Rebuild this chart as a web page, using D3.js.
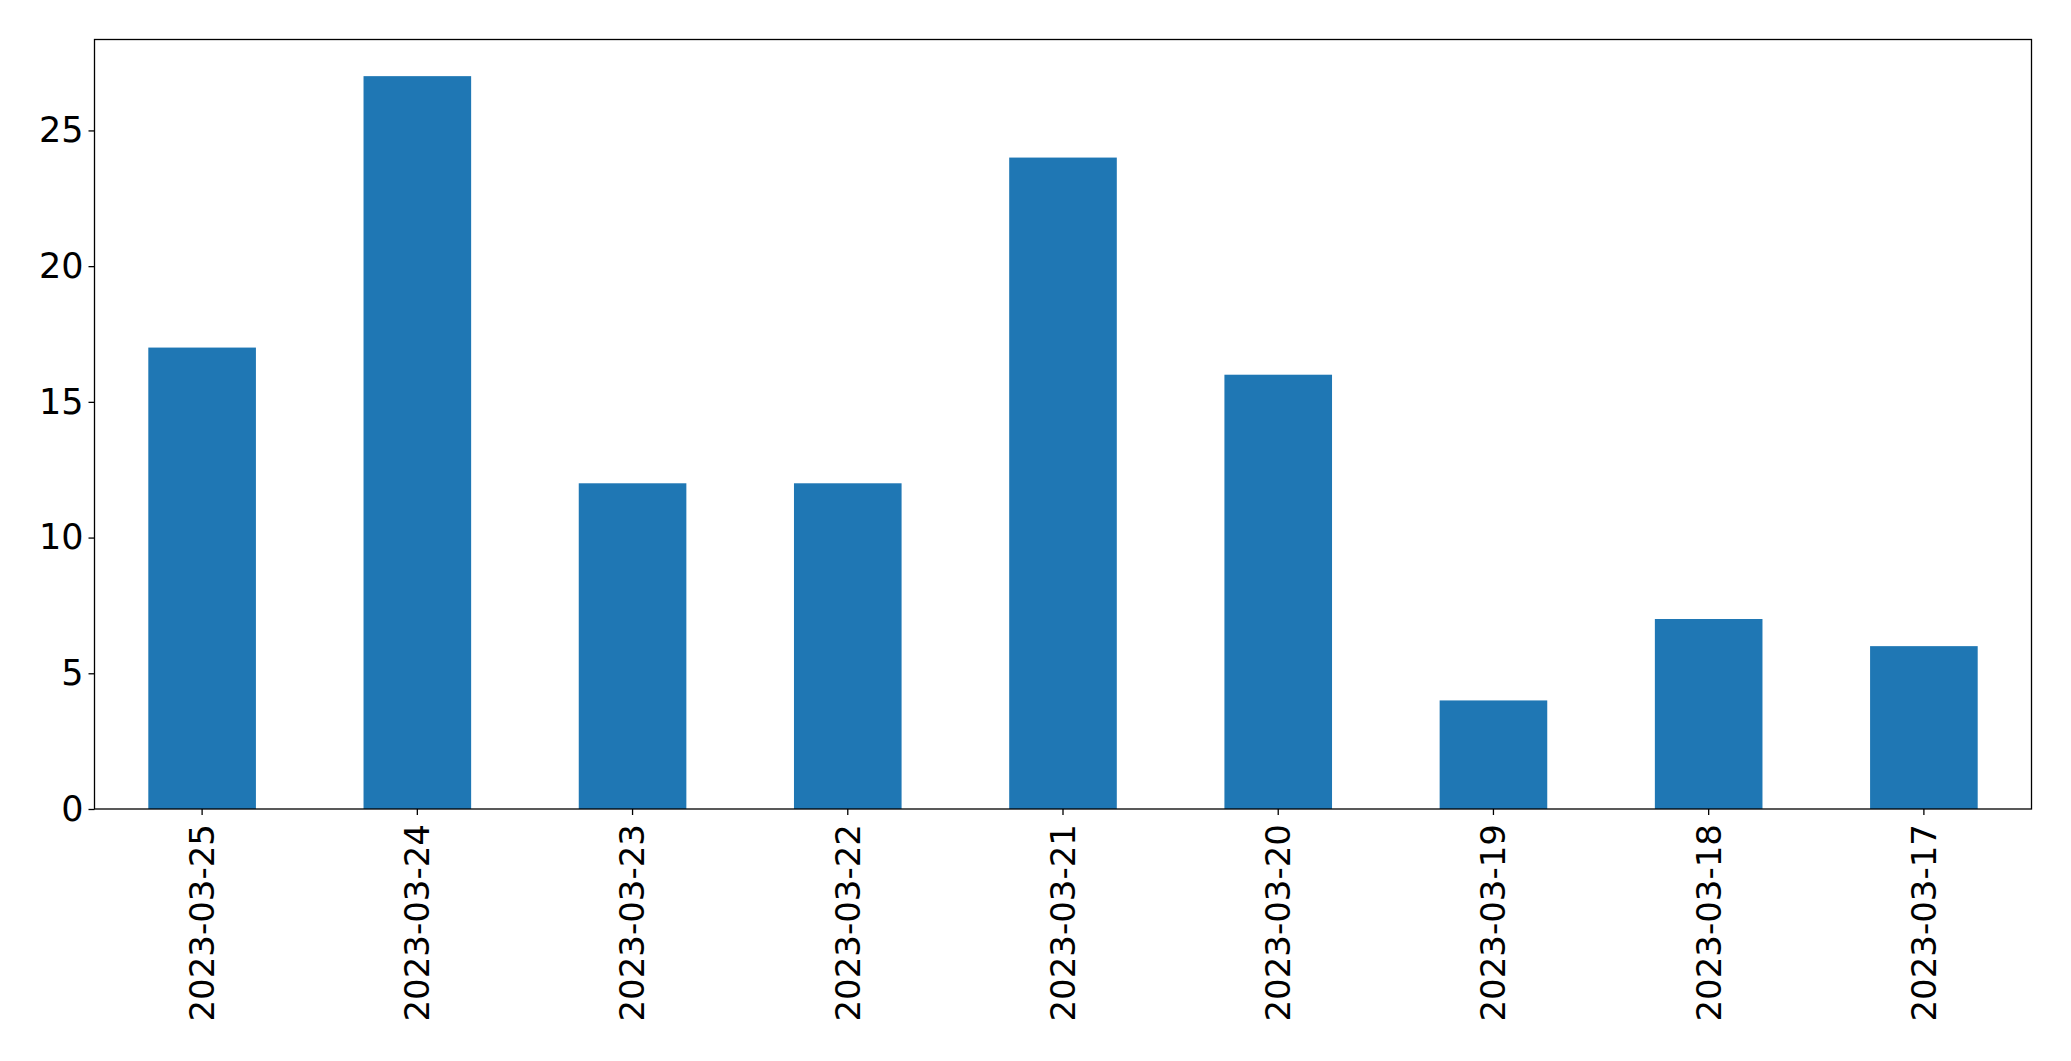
<!DOCTYPE html>
<html><head><meta charset="utf-8">
<script src="https://cdn.jsdelivr.net/npm/d3@7"></script>
<style>body{margin:0;background:#fff}svg{display:block}text{font-family:"DejaVu Sans",sans-serif}</style>
</head><body><svg id="c" width="2071" height="1061"></svg>
<script>
const categories = ["2023-03-25","2023-03-24","2023-03-23","2023-03-22","2023-03-21","2023-03-20","2023-03-19","2023-03-18","2023-03-17"];
const values = [17, 27, 12, 12, 24, 16, 4, 7, 6];
const yTicks = [0, 5, 10, 15, 20, 25];

const W = 2071, H = 1061;
const m = {left: 94.5, right: 2031.5, top: 39.5, bottom: 809};
const svg = d3.select("#c");
const x = d3.scaleBand().domain(categories).range([m.left, m.right]).paddingInner(0.5).paddingOuter(0.25);
const y = d3.scaleLinear().domain([0, d3.max(values) * 1.05]).range([m.bottom, m.top]);

svg.append("g").selectAll("rect").data(values).join("rect")
  .attr("x", (d, i) => x(categories[i]))
  .attr("width", x.bandwidth())
  .attr("y", d => y(d))
  .attr("height", d => y(0) - y(d))
  .attr("fill", "#1f77b4");

const fs = 35;
const yAxis = svg.append("g").attr("transform", `translate(${m.left},0)`)
  .call(d3.axisLeft(y).tickValues(yTicks).tickSize(6).tickPadding(5).tickFormat(d3.format("d")));
yAxis.select(".domain").remove();
yAxis.selectAll("text").attr("font-size", fs).attr("font-family", "DejaVu Sans").attr("fill", "#000");
yAxis.selectAll("line").attr("stroke", "#000").attr("stroke-width", 1.3);

const xAxis = svg.append("g").attr("transform", `translate(0,${m.bottom})`)
  .call(d3.axisBottom(x).tickSize(6).tickPadding(8));
xAxis.select(".domain").remove();
xAxis.selectAll("line").attr("stroke", "#000").attr("stroke-width", 1.3);
xAxis.selectAll("text")
  .attr("font-size", 34).attr("font-family", "DejaVu Sans").attr("fill", "#000")
  .attr("transform", "rotate(-90)")
  .attr("text-anchor", "end")
  .attr("x", -15).attr("y", 0).attr("dy", "0.35em");

svg.append("rect").attr("x", m.left).attr("y", m.top)
  .attr("width", m.right - m.left).attr("height", m.bottom - m.top)
  .attr("fill", "none").attr("stroke", "#000").attr("stroke-width", 1.3);
</script></body></html>
